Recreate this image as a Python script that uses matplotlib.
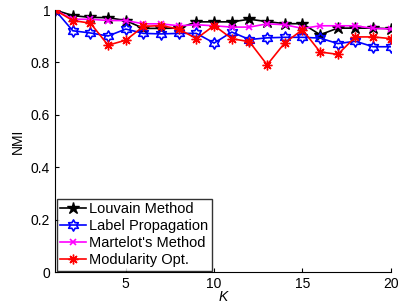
import numpy as np
import matplotlib
matplotlib.use("Agg")
import matplotlib.pyplot as plt
from matplotlib.path import Path

plt.rcParams['font.family'] = ['Liberation Sans', 'DejaVu Sans']

K = list(range(1, 21))
louvain = [1.0, 0.979, 0.972, 0.971, 0.96, 0.93, 0.93, 0.931, 0.955, 0.955,
           0.955, 0.965, 0.956, 0.948, 0.948, 0.906, 0.931, 0.931, 0.931, 0.929]
label_prop = [1.0, 0.921, 0.9125, 0.901, 0.9275, 0.911, 0.909, 0.911, 0.911, 0.874,
              0.916, 0.8875, 0.894, 0.896, 0.896, 0.893, 0.872, 0.881, 0.86, 0.86]
martelot = [1.0, 0.965, 0.965, 0.96, 0.96, 0.9475, 0.9475, 0.94, 0.944, 0.94,
            0.935, 0.935, 0.9475, 0.944, 0.93, 0.94, 0.94, 0.94, 0.93, 0.928]
modularity = [1.0, 0.96, 0.95, 0.866, 0.885, 0.9375, 0.941, 0.9275, 0.891, 0.941,
              0.891, 0.879, 0.791, 0.875, 0.925, 0.84, 0.831, 0.8975, 0.8975, 0.891]
series_names = ["Louvain Method", "Label Propagation", "Martelot's Method", "Modularity Opt."]
yticks = [0, 0.2, 0.4, 0.6, 0.8, 1]
ytick_labels = ["0", "0.2", "0.4", "0.6", "0.8", "1"]
xticks = [5, 10, 15, 20]

# hexagram marker path
ang_out = np.deg2rad(90 + np.arange(6) * 60)
ang_in = np.deg2rad(120 + np.arange(6) * 60)
r_in = 1 / np.sqrt(3)
verts = []
for i in range(6):
    verts.append((np.cos(ang_out[i]), np.sin(ang_out[i])))
    verts.append((r_in * np.cos(ang_in[i]), r_in * np.sin(ang_in[i])))
verts.append(verts[0])
codes = [Path.MOVETO] + [Path.LINETO] * 11 + [Path.CLOSEPOLY]
hexagram = Path(verts, codes)

fig = plt.figure(figsize=(4.05, 3.05), dpi=100)
ax = fig.add_axes([0.136, 0.108, 0.829, 0.859])

ax.plot(K, louvain, color='black', lw=1.2, marker='*', ms=9, mfc='black', mec='black',
        label=series_names[0])
ax.plot(K, label_prop, color='#0000ff', lw=1.2, marker=hexagram, ms=8, mfc='none', mec='#0000ff',
        mew=1.2, label=series_names[1])
ax.plot(K, martelot, color='#ff00ff', lw=1.2, marker='x', ms=5, mew=1.2,
        label=series_names[2])
ax.plot(K, modularity, color='#ff0000', lw=1.2, marker=(8, 2, 0), ms=7, mew=1.0,
        label=series_names[3])

ax.set_xlim(1, 20)
ax.set_ylim(0, 1)
ax.set_xticks(xticks)
ax.set_yticks(yticks)
ax.set_yticklabels(ytick_labels)
ax.tick_params(direction='in', labelsize=10, length=3, width=0.8)
ax.spines['top'].set_visible(False)
ax.spines['right'].set_visible(False)
ax.set_xlabel('K', style='italic', fontsize=10, labelpad=-1)
ax.set_ylabel('NMI', fontsize=10, labelpad=4)

leg = ax.legend(loc='lower left', fontsize=10.5, frameon=True, fancybox=False,
                borderpad=0.25, handlelength=1.8, handletextpad=0.2, labelspacing=0.2,
                borderaxespad=0.1)
leg.get_frame().set_edgecolor('black')
leg.get_frame().set_linewidth(1.0)

fig.savefig('out.png', dpi=100)
